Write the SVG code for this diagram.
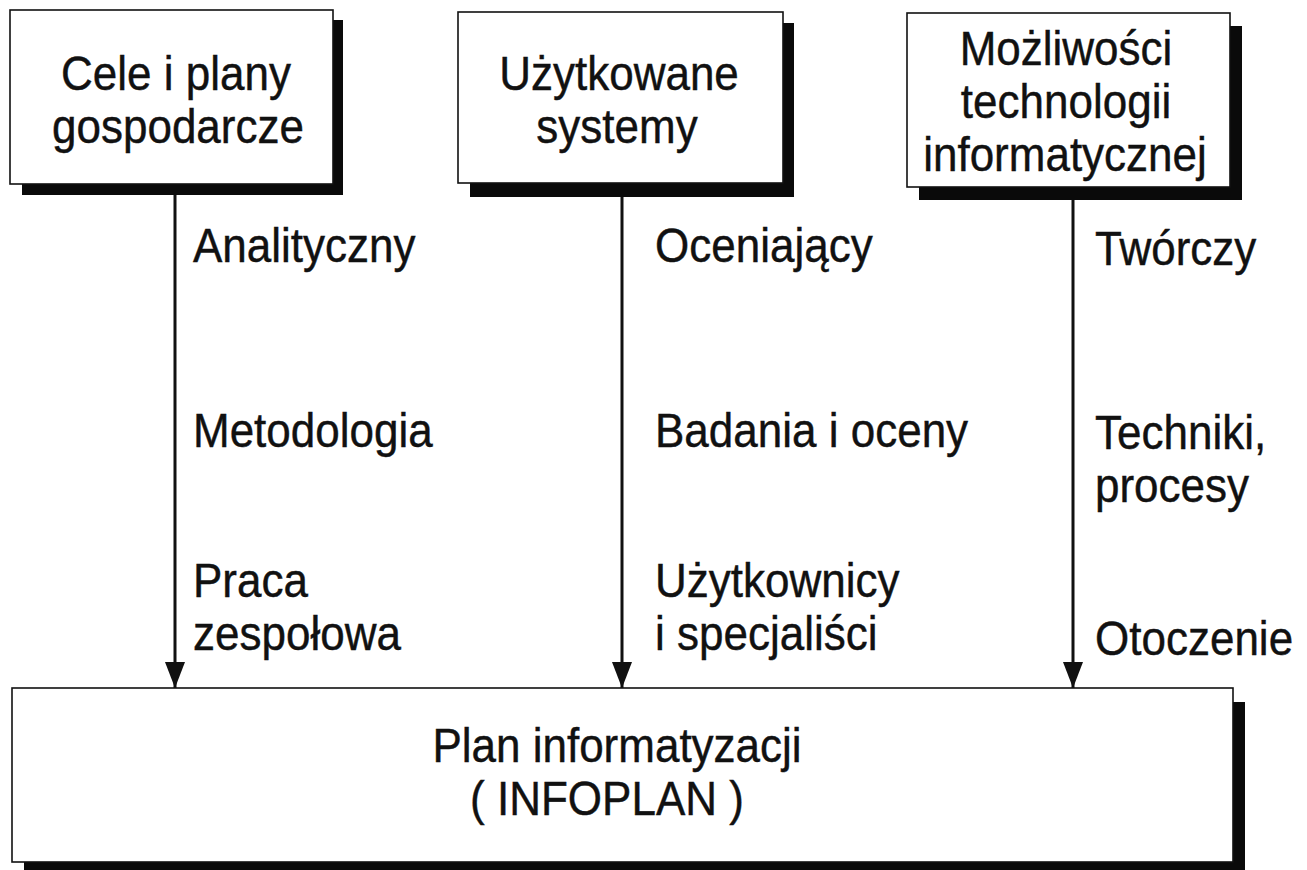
<svg xmlns="http://www.w3.org/2000/svg" width="1307" height="870" viewBox="0 0 1307 870">
  <style>
    .box { fill: #ffffff; stroke: #111111; stroke-width: 1.6; }
    .shadow { fill: #0a0a0a; }
    .t { font-family: "Liberation Sans", Arial, sans-serif; font-size: 44px; fill: #111111; stroke: #111111; stroke-width: 0.4; }
    .c { text-anchor: middle; }
    .link { stroke: #111111; stroke-width: 3; fill: none; marker-end: url(#arrow); }
  </style>
  <defs>
    <!-- solid downward arrowhead, 20 wide and 26 long, tip on the line end -->
    <marker id="arrow" markerWidth="26" markerHeight="20" refX="26" refY="10" orient="auto" markerUnits="userSpaceOnUse" viewBox="0 0 26 20">
      <path d="M0,0 L26,10 L0,20 Z" fill="#111111"/>
    </marker>
  </defs>
  <rect width="1307" height="870" fill="#ffffff"/>

  <!-- connectors: each source box feeds the plan below -->
  <g id="connectors">
    <line class="link" x1="175" y1="195" x2="175" y2="688"/>
    <line class="link" x1="622" y1="197" x2="622" y2="688"/>
    <line class="link" x1="1073" y1="200" x2="1073" y2="688"/>
  </g>

  <g id="node-cele">
    <rect class="shadow" x="22" y="20" width="321" height="175"/>
    <rect class="box" x="10" y="10" width="323" height="174"/>
    <text class="t c" transform="translate(176 90) scale(1 1.1)">Cele i plany</text>
    <text class="t c" transform="translate(178 143) scale(1 1.1)">gospodarcze</text>
  </g>

  <g id="node-systemy">
    <rect class="shadow" x="470" y="23" width="324" height="174"/>
    <rect class="box" x="458" y="12" width="325" height="171"/>
    <text class="t c" transform="translate(619 90) scale(1 1.1)">Użytkowane</text>
    <text class="t c" transform="translate(617 143) scale(1 1.1)">systemy</text>
  </g>

  <g id="node-technologia">
    <rect class="shadow" x="919" y="26" width="323" height="174"/>
    <rect class="box" x="907" y="13" width="323" height="174"/>
    <text class="t c" transform="translate(1066 65) scale(1 1.1)">Możliwości</text>
    <text class="t c" transform="translate(1066 118) scale(1 1.1)">technologii</text>
    <text class="t c" transform="translate(1065 171) scale(1 1.1)">informatycznej</text>
  </g>

  <g id="labels-cele">
    <text class="t" transform="translate(193 262) scale(1 1.1)">Analityczny</text>
    <text class="t" transform="translate(193 447) scale(1 1.1)">Metodologia</text>
    <text class="t" transform="translate(193 597) scale(1 1.1)">Praca</text>
    <text class="t" transform="translate(193 650) scale(1 1.1)">zespołowa</text>
  </g>

  <g id="labels-systemy">
    <text class="t" transform="translate(655 262) scale(1 1.1)">Oceniający</text>
    <text class="t" transform="translate(655 447) scale(1 1.1)">Badania i oceny</text>
    <text class="t" transform="translate(655 597) scale(1 1.1)">Użytkownicy</text>
    <text class="t" transform="translate(655 650) scale(1 1.1)">i specjaliści</text>
  </g>

  <g id="labels-technologia">
    <text class="t" transform="translate(1095 265) scale(1 1.1)">Twórczy</text>
    <text class="t" transform="translate(1095 449) scale(1 1.1)">Techniki,</text>
    <text class="t" transform="translate(1095 502) scale(1 1.1)">procesy</text>
    <text class="t" transform="translate(1095 655) scale(1 1.1)">Otoczenie</text>
  </g>

  <g id="node-infoplan">
    <rect class="shadow" x="24" y="702" width="1221" height="175"/>
    <rect class="box" x="12" y="688" width="1221" height="174"/>
    <text class="t c" transform="translate(617 762) scale(1 1.1)">Plan informatyzacji</text>
    <text class="t c" transform="translate(607 815) scale(1 1.1)">( INFOPLAN )</text>
  </g>
</svg>
